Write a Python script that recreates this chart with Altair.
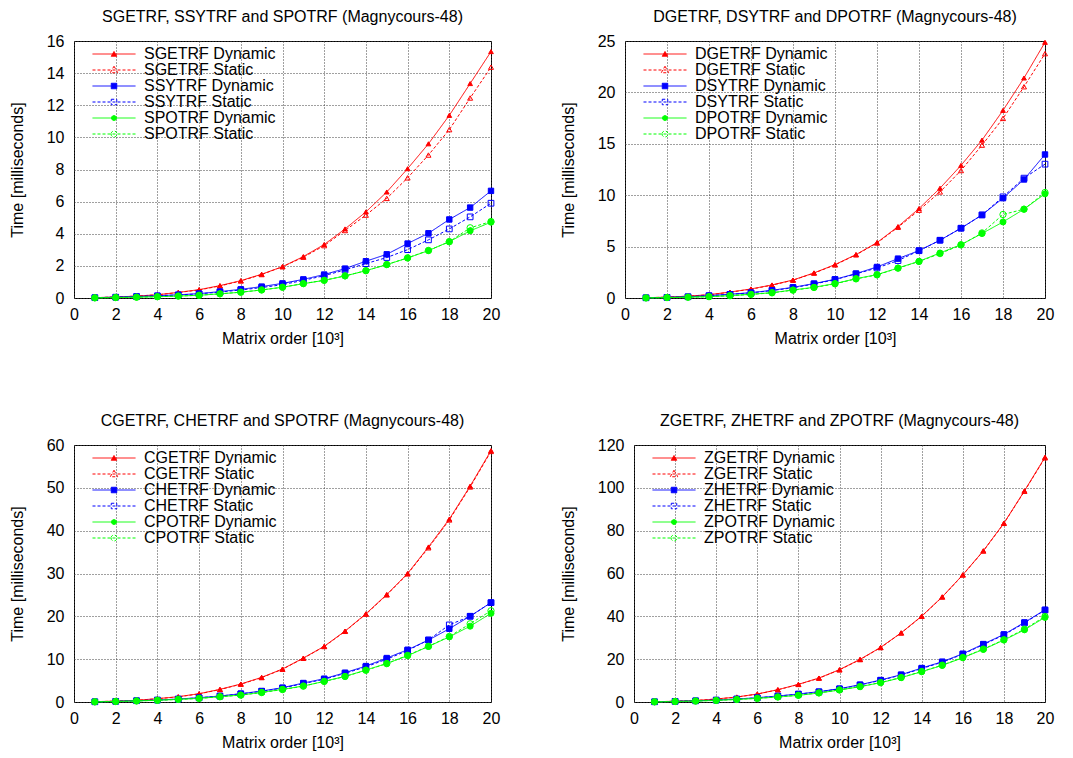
import json
import altair as alt
import pandas as pd

X = list(range(1, 21))

# ---------------- Panel 1 : single precision ----------------
P1_TITLE = "SGETRF, SSYTRF and SPOTRF (Magnycours-48)"
P1_NAMES = ["SGETRF Dynamic", "SGETRF Static", "SSYTRF Dynamic", "SSYTRF Static",
            "SPOTRF Dynamic", "SPOTRF Static"]
S_GE_DYN = [0.02, 0.06, 0.12, 0.20, 0.35, 0.52, 0.77, 1.08, 1.48, 1.95, 2.58, 3.33, 4.30, 5.36, 6.60, 8.05, 9.60, 11.37, 13.35, 15.34]
S_GE_STA = [0.02, 0.06, 0.12, 0.20, 0.34, 0.50, 0.75, 1.06, 1.46, 1.95, 2.54, 3.26, 4.20, 5.16, 6.20, 7.48, 8.90, 10.48, 12.45, 14.37]
S_SY_DYN = [0.02, 0.05, 0.09, 0.14, 0.20, 0.27, 0.40, 0.54, 0.71, 0.91, 1.16, 1.46, 1.83, 2.29, 2.72, 3.39, 4.03, 4.89, 5.63, 6.67]
S_SY_STA = [0.02, 0.05, 0.09, 0.13, 0.19, 0.26, 0.37, 0.50, 0.65, 0.83, 1.10, 1.39, 1.75, 2.14, 2.52, 3.01, 3.62, 4.30, 5.05, 5.90]
S_PO_DYN = [0.01, 0.03, 0.05, 0.08, 0.12, 0.17, 0.26, 0.36, 0.50, 0.67, 0.89, 1.10, 1.37, 1.70, 2.08, 2.49, 2.95, 3.51, 4.18, 4.72]
S_PO_STA = [0.01, 0.03, 0.05, 0.08, 0.12, 0.17, 0.26, 0.36, 0.50, 0.67, 0.90, 1.10, 1.38, 1.70, 2.08, 2.50, 2.96, 3.50, 4.37, 4.76]

# ---------------- Panel 2 : double precision ----------------
P2_TITLE = "DGETRF, DSYTRF and DPOTRF (Magnycours-48)"
P2_NAMES = ["DGETRF Dynamic", "DGETRF Static", "DSYTRF Dynamic", "DSYTRF Static",
            "DPOTRF Dynamic", "DPOTRF Static"]
D_GE_DYN = [0.03, 0.08, 0.18, 0.32, 0.58, 0.88, 1.27, 1.75, 2.44, 3.25, 4.22, 5.39, 6.95, 8.70, 10.68, 12.90, 15.36, 18.25, 21.40, 24.87]
D_GE_STA = [0.03, 0.08, 0.18, 0.31, 0.56, 0.86, 1.25, 1.73, 2.42, 3.22, 4.20, 5.35, 6.88, 8.54, 10.32, 12.40, 14.87, 17.47, 20.55, 23.77]
D_SY_DYN = [0.02, 0.06, 0.12, 0.23, 0.36, 0.52, 0.75, 1.04, 1.40, 1.82, 2.37, 3.02, 3.83, 4.61, 5.62, 6.79, 8.08, 9.71, 11.53, 13.96]
D_SY_STA = [0.02, 0.06, 0.12, 0.22, 0.35, 0.50, 0.72, 1.00, 1.36, 1.78, 2.35, 2.92, 3.64, 4.60, 5.62, 6.79, 8.08, 9.84, 11.66, 13.02]
D_PO_DYN = [0.01, 0.04, 0.08, 0.13, 0.23, 0.36, 0.52, 0.78, 1.04, 1.40, 1.88, 2.27, 2.92, 3.57, 4.38, 5.19, 6.27, 7.40, 8.64, 10.13]
D_PO_STA = [0.01, 0.04, 0.08, 0.13, 0.22, 0.35, 0.50, 0.76, 1.02, 1.38, 1.86, 2.25, 2.90, 3.55, 4.32, 5.16, 6.33, 8.12, 8.64, 10.26]

# ---------------- Panel 3 : single complex ----------------
P3_TITLE = "CGETRF, CHETRF and SPOTRF (Magnycours-48)"
P3_NAMES = ["CGETRF Dynamic", "CGETRF Static", "CHETRF Dynamic", "CHETRF Static",
            "CPOTRF Dynamic", "CPOTRF Static"]
C_GE_DYN = [0.08, 0.20, 0.40, 0.78, 1.24, 1.94, 2.95, 4.20, 5.75, 7.70, 10.26, 13.00, 16.55, 20.60, 25.10, 30.00, 36.20, 42.70, 50.40, 58.70]
C_GE_STA = [0.08, 0.20, 0.40, 0.76, 1.20, 1.90, 2.90, 4.15, 5.70, 7.65, 10.20, 12.95, 16.50, 20.50, 25.00, 29.90, 36.00, 42.50, 50.20, 58.50]
C_HE_DYN = [0.05, 0.15, 0.30, 0.45, 0.70, 1.00, 1.40, 1.94, 2.56, 3.34, 4.43, 5.44, 6.84, 8.39, 10.26, 12.20, 14.45, 17.10, 20.05, 23.20]
C_HE_STA = [0.05, 0.15, 0.30, 0.45, 0.68, 0.98, 1.38, 1.90, 2.50, 3.25, 4.30, 5.30, 6.70, 8.20, 10.00, 12.00, 14.50, 18.00, 20.00, 23.20]
C_PO_DYN = [0.04, 0.12, 0.25, 0.40, 0.62, 0.85, 1.24, 1.63, 2.25, 2.95, 3.73, 4.82, 5.98, 7.45, 9.00, 10.80, 12.97, 15.20, 17.70, 20.70]
C_PO_STA = [0.04, 0.12, 0.25, 0.40, 0.60, 0.84, 1.22, 1.60, 2.20, 2.90, 3.70, 4.80, 5.95, 7.40, 8.95, 10.90, 13.00, 15.30, 18.26, 21.30]

# ---------------- Panel 4 : double complex ----------------
P4_TITLE = "ZGETRF, ZHETRF and ZPOTRF (Magnycours-48)"
P4_NAMES = ["ZGETRF Dynamic", "ZGETRF Static", "ZHETRF Dynamic", "ZHETRF Static",
            "ZPOTRF Dynamic", "ZPOTRF Static"]
Z_GE_DYN = [0.12, 0.35, 0.70, 1.40, 2.33, 3.73, 5.75, 8.24, 11.20, 15.10, 19.90, 25.50, 32.30, 40.10, 49.10, 59.40, 70.60, 83.50, 98.60, 114.30]
Z_GE_STA = [0.12, 0.35, 0.70, 1.38, 2.30, 3.70, 5.70, 8.20, 11.10, 15.00, 19.80, 25.40, 32.20, 40.00, 49.00, 59.30, 70.50, 83.40, 98.40, 114.00]
Z_HE_DYN = [0.10, 0.30, 0.55, 0.90, 1.40, 2.00, 2.80, 3.73, 4.82, 6.22, 8.08, 10.26, 12.75, 15.86, 18.80, 22.54, 27.05, 31.56, 37.15, 43.06]
Z_HE_STA = [0.10, 0.30, 0.55, 0.88, 1.38, 1.95, 2.75, 3.65, 4.75, 6.10, 7.95, 10.10, 12.60, 15.60, 18.60, 22.30, 26.80, 31.30, 36.90, 42.90]
Z_PO_DYN = [0.08, 0.22, 0.45, 0.75, 1.20, 1.70, 2.33, 3.10, 4.20, 5.60, 7.15, 9.00, 11.35, 14.15, 17.10, 20.67, 24.56, 28.90, 33.70, 39.50]
Z_PO_STA = [0.08, 0.22, 0.45, 0.75, 1.20, 1.70, 2.35, 3.15, 4.25, 5.65, 7.20, 9.10, 11.45, 14.25, 17.20, 20.80, 24.70, 29.10, 34.00, 39.95]

X_TICKS = list(range(0, 21, 2))

# ---------------- styling ----------------
FONT = "Liberation Sans"
RED, BLUE, GREEN = "#ff0000", "#0000ff", "#00ff00"
COLORS = [RED, RED, BLUE, BLUE, GREEN, GREEN]
DASHES = [[1, 0], [3, 2], [1, 0], [3, 2], [1, 0], [3, 2]]
SHAPES = ["triangle-up", "triangle-up", "square", "square", "circle", "circle"]
FILLS = [RED, "transparent", BLUE, "transparent", GREEN, "transparent"]
SIZES = [22, 40, 30, 30, 22, 30]
IDX = [0, 1, 2, 3, 4, 5]

LINE = "M-4.3,0H4.3"
LEG_MARK = [
    "M0,-0.5L0.55,0.45L-0.55,0.45Z",
    "M0,-0.75L0.75,0.55L-0.75,0.55Z",
    "M-0.55,-0.55H0.55V0.55H-0.55Z",
    "M-0.55,-0.55H0.55V0.55H-0.55Z",
    "M-0.5,0A0.5,0.5,0,1,0,0.5,0A0.5,0.5,0,1,0,-0.5,0Z",
    "M-0.6,0A0.6,0.6,0,1,0,0.6,0A0.6,0.6,0,1,0,-0.6,0Z",
]


def pick(names, values):
    return {"expr": "%s[indexof(%s, datum.value)]" % (json.dumps(values), json.dumps(names))}


def panel(title, names, series, ymax, ystep, width):
    rows = []
    for i, (name, vals) in enumerate(zip(names, series)):
        for x, y in zip(X, vals):
            rows.append({"x": x, "y": y, "series": name, "idx": i})
    df = pd.DataFrame(rows)

    legend = alt.Legend(
        title=None,
        orient="none",
        legendX=0,
        legendY=5,
        padding=0,
        rowPadding=0,
        symbolSize=100,
        symbolStrokeWidth=1,
        symbolOffset=32,
        labelOffset=22,
        labelFont=FONT,
        labelFontSize=16,
        labelColor="black",
        symbolType=pick(names, [LINE + m for m in LEG_MARK]),
        symbolDash=pick(names, DASHES),
        symbolFillColor=pick(names, FILLS),
    )
    cscale = alt.Scale(domain=names, range=COLORS)
    xenc = alt.X(
        "x:Q",
        scale=alt.Scale(domain=[0, 20], nice=False),
        axis=alt.Axis(values=X_TICKS, title="Matrix order [10³]"),
    )
    yenc = alt.Y(
        "y:Q",
        scale=alt.Scale(domain=[0, ymax], nice=False),
        axis=alt.Axis(values=list(range(0, ymax + 1, ystep)), title="Time [milliseconds]"),
    )
    lines = alt.Chart(df).mark_line(strokeWidth=1).encode(
        x=xenc,
        y=yenc,
        color=alt.Color("series:N", scale=cscale, legend=legend),
        strokeDash=alt.StrokeDash("idx:N", scale=alt.Scale(domain=IDX, range=DASHES), legend=None),
        detail="series:N",
    )
    points = alt.Chart(df).mark_point(strokeWidth=1, opacity=1, filled=False).encode(
        x=xenc,
        y=yenc,
        color=alt.Color("series:N", scale=cscale, legend=legend),
        shape=alt.Shape("idx:N", scale=alt.Scale(domain=IDX, range=SHAPES), legend=None),
        fill=alt.Fill("idx:N", scale=alt.Scale(domain=IDX, range=FILLS), legend=None),
        size=alt.Size("idx:N", scale=alt.Scale(domain=IDX, range=SIZES), legend=None),
    )
    return alt.layer(lines, points).properties(
        width=width,
        height=257,
        title=alt.TitleParams(title, fontSize=16, font=FONT, fontWeight="normal",
                              color="black", offset=8, anchor="middle"),
    )


p1 = panel(P1_TITLE, P1_NAMES, [S_GE_DYN, S_GE_STA, S_SY_DYN, S_SY_STA, S_PO_DYN, S_PO_STA], 16, 2, 417)
p2 = panel(P2_TITLE, P2_NAMES, [D_GE_DYN, D_GE_STA, D_SY_DYN, D_SY_STA, D_PO_DYN, D_PO_STA], 25, 5, 420)
p3 = panel(P3_TITLE, P3_NAMES, [C_GE_DYN, C_GE_STA, C_HE_DYN, C_HE_STA, C_PO_DYN, C_PO_STA], 60, 10, 417)
p4 = panel(P4_TITLE, P4_NAMES, [Z_GE_DYN, Z_GE_STA, Z_HE_DYN, Z_HE_STA, Z_PO_DYN, Z_PO_STA], 120, 20, 411)

RES = dict(color="independent", strokeDash="independent", shape="independent",
           fill="independent", size="independent", x="independent", y="independent")

top = alt.hconcat(p1, p2, spacing=58).resolve_scale(**RES).resolve_legend(color="independent")
bottom = alt.hconcat(p3, p4, spacing=58).resolve_scale(**RES).resolve_legend(color="independent")

chart = (
    alt.vconcat(top, bottom, spacing=65)
    .resolve_scale(**RES)
    .resolve_legend(color="independent")
    .properties(padding=0, background="white")
    .configure_view(stroke="black", strokeWidth=1)
    .configure_axis(
        labelFont=FONT,
        titleFont=FONT,
        labelFontSize=16,
        titleFontSize=16,
        titleFontWeight="normal",
        labelColor="black",
        titleColor="black",
        domain=False,
        ticks=False,
        labelFlush=False,
        grid=True,
        gridColor="#404040",
        gridDash=[1, 2],
        gridWidth=1,
        gridOpacity=1,
    )
    .configure_axisY(labelPadding=10, titlePadding=21)
    .configure_axisX(labelPadding=8, titlePadding=8)
)

chart.save("out.html", embed_options={"renderer": "svg", "actions": False})
